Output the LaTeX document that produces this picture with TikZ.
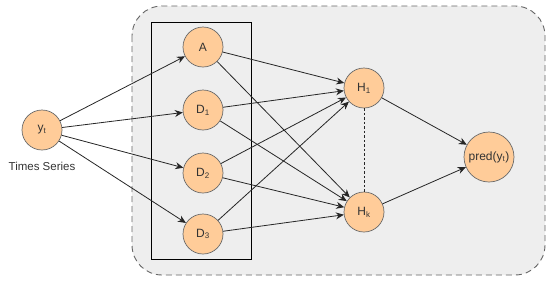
\documentclass[tikz,border=0pt]{standalone}
\usepackage{fontspec}
\setmainfont{Liberation Sans}
\usetikzlibrary{arrows.meta}
\definecolor{nodefill}{HTML}{FFCC99}
\definecolor{nodeline}{HTML}{6A6A6A}
\definecolor{nodetext}{HTML}{333333}
\definecolor{bgfill}{HTML}{EEEEEE}
\definecolor{bgline}{HTML}{666666}
\begin{document}
\begin{tikzpicture}[x=1pt,y=-1pt,
  neuron/.style={circle,draw=nodeline,fill=nodefill,minimum size=40pt,inner sep=0pt,text=nodetext,font=\fontsize{12}{14}\selectfont,line width=0.7pt},
  bignode/.style={neuron,minimum size=50pt},
  conn/.style={-{Stealth[length=8pt,width=7pt]},line width=0.8pt,black!85},
]
\useasboundingbox (0,0) rectangle (550,282);
\draw[fill=bgfill,draw=bgline,dashed,dash pattern=on 6pt off 4pt,line width=0.9pt,rounded corners=30pt] (132,6) rectangle (545,275);
\draw[line width=0.8pt,black] (151,22) rectangle (251,259);
\node[neuron] (y) at (42,130) {y\textsubscript{t}};
\node[font=\fontsize{11.5}{13}\selectfont,text=nodetext] (ts) at (42,166) {Times Series};
\node[neuron] (a) at (203,47) {A};
\node[neuron] (d1) at (203,110) {D\textsubscript{1}};
\node[neuron] (d2) at (203,173) {D\textsubscript{2}};
\node[neuron] (d3) at (203,234) {D\textsubscript{3}};
\node[neuron] (h1) at (364,88) {H\textsubscript{1}};
\node[neuron] (hk) at (364,212) {H\textsubscript{k}};
\node[bignode] (p) at (489,157) {pred(y\textsubscript{t})};
\foreach \t in {a,d1,d2,d3} \draw[conn] (y) -- (\t);
\foreach \s in {a,d1,d2,d3} {\draw[conn] (\s) -- (h1); \draw[conn] (\s) -- (hk);}
\draw[conn] (h1) -- (p);
\draw[conn] (hk) -- (p);
\draw[dashed,dash pattern=on 2.5pt off 2pt,line width=0.7pt,black!85] (h1) -- (hk);
\end{tikzpicture}
\end{document}
